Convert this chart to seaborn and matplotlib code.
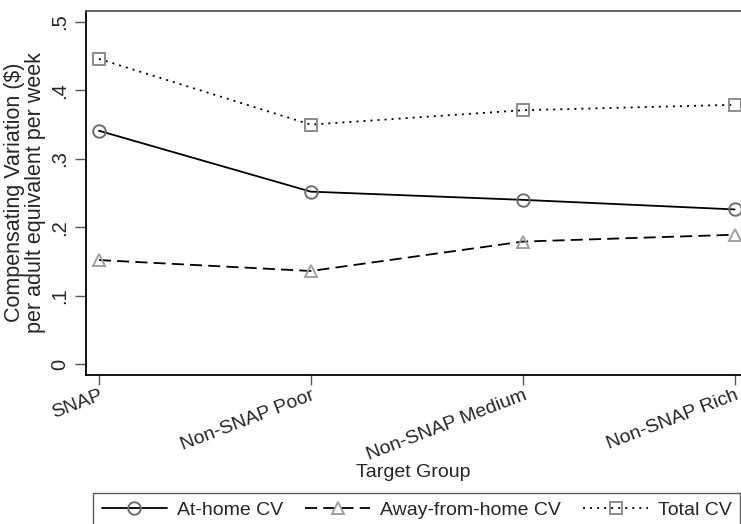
import matplotlib
matplotlib.use("Agg")
import matplotlib.pyplot as plt
import seaborn as sns
import pandas as pd
from matplotlib.lines import Line2D

categories = ["SNAP", "Non-SNAP Poor", "Non-SNAP Medium", "Non-SNAP Rich"]
at_home = [0.341, 0.252, 0.240, 0.226]
away_home = [0.152, 0.136, 0.179, 0.189]
total_cv = [0.446, 0.350, 0.371, 0.379]
series_names = ["At-home CV", "Away-from-home CV", "Total CV"]
y_ticks = [0, 0.1, 0.2, 0.3, 0.4, 0.5]
y_ticklabels = ["0", ".1", ".2", ".3", ".4", ".5"]

sns.set_theme(style="white")
plt.rcParams['font.family'] = ['Liberation Sans', 'DejaVu Sans']

fig = plt.figure(figsize=(7.41, 5.24), dpi=100)
ax = fig.add_axes([86/741, 1-374.7/524, 1-86/741, (374.7-10.7)/524])

styles = [
    dict(marker="o", mec="#6e6e6e", dashes=None),
    dict(marker="^", mec="#a0a0a0", dashes=(6.7, 3.4)),
    dict(marker="s", mec="#8c8c8c", dashes=(1.1, 2.8)),
]
x = list(range(len(categories)))
handles = []
for vals, name, st in zip([at_home, away_home, total_cv], series_names, styles):
    df = pd.DataFrame({"x": x, "y": vals})
    sns.lineplot(data=df, x="x", y="y", ax=ax, color="black", lw=1.3,
                 marker=st["marker"], markersize=9, markerfacecolor="none",
                 markeredgecolor=st["mec"], markeredgewidth=1.4, legend=False)
    ln = ax.lines[-1]
    if st["dashes"] is not None:
        ln.set_dashes(st["dashes"])
    h = Line2D([0], [0], color="black", lw=1.3, marker=st["marker"], markersize=9,
               markerfacecolor="none", markeredgecolor=st["mec"], markeredgewidth=1.4)
    if st["dashes"] is not None:
        h.set_dashes(st["dashes"])
    handles.append(h)

ax.set_xlim(-0.061, 3.03)
ax.set_ylim(-0.0156, 0.5165)
ax.set_yticks(y_ticks)
ax.set_yticklabels(y_ticklabels, rotation=90, va="center", fontsize=14.5)
ax.set_xticks(x)
ax.set_xticklabels(categories, rotation=21, ha="right", va="top",
                   rotation_mode="anchor", fontsize=14)
ax.tick_params(axis="y", length=8, width=1, color="#555555", left=True, pad=4)
ax.tick_params(axis="x", length=7, width=1, color="#555555", bottom=True, pad=2)

for s in ["left", "bottom"]:
    ax.spines[s].set_color("black")
    ax.spines[s].set_linewidth(1.3)
ax.spines["top"].set_color("#555555")
ax.spines["top"].set_linewidth(1.3)
ax.spines["right"].set_visible(False)

ax.set_xlabel("Target Group", fontsize=14, labelpad=0)
ax.set_ylabel("Compensating Variation ($)\nper adult equivalent per week",
              fontsize=15.5, labelpad=3, linespacing=1.0)

leg = fig.legend(handles, series_names, ncol=3, loc="upper left",
                 bbox_to_anchor=(93.3/741, 1-493/524), fontsize=14, frameon=True,
                 fancybox=False, edgecolor="#333333", handlelength=3.35,
                 columnspacing=1.13, handletextpad=0.52, borderpad=0.43,
                 borderaxespad=0)
leg.get_frame().set_linewidth(1.0)

fig.savefig("out.png", dpi=100)
